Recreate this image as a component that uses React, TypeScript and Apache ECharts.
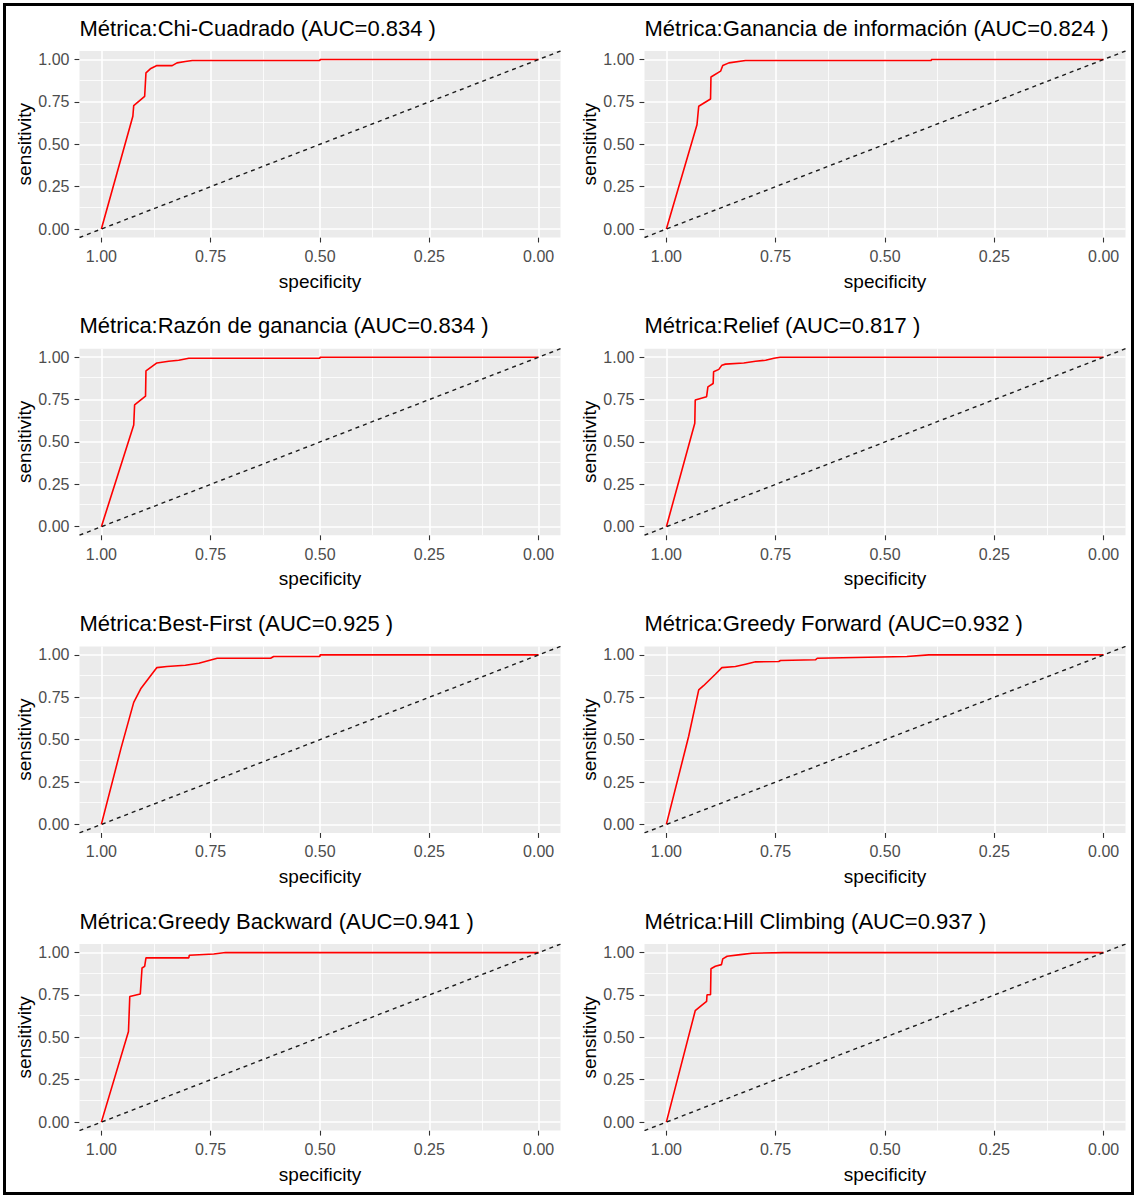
import React, { useEffect, useRef } from "react";
import * as echarts from "echarts";

// ---------- data ----------
const metricNames = [
  "Chi-Cuadrado",
  "Ganancia de información",
  "Razón de ganancia",
  "Relief",
  "Best-First",
  "Greedy Forward",
  "Greedy Backward",
  "Hill Climbing",
];
const aucValues = ["0.834", "0.824", "0.834", "0.817", "0.925", "0.932", "0.941", "0.937"];

// [specificity, sensitivity]
const chiCuadrado = [[1, 0], [0.928, 0.665], [0.926, 0.728], [0.901, 0.783], [0.898, 0.921], [0.888, 0.945], [0.873, 0.964], [0.838, 0.964], [0.827, 0.98], [0.808, 0.988], [0.792, 0.994], [0.5, 0.994], [0.5, 1], [0, 1]];
const gananciaInfo = [[1, 0], [0.93, 0.615], [0.926, 0.724], [0.899, 0.767], [0.898, 0.897], [0.876, 0.931], [0.871, 0.964], [0.857, 0.98], [0.819, 0.994], [0.394, 0.994], [0.394, 1], [0, 1]];
const razonGanancia = [[1, 0], [0.926, 0.6], [0.924, 0.718], [0.899, 0.77], [0.898, 0.919], [0.873, 0.966], [0.846, 0.976], [0.823, 0.982], [0.8, 0.994], [0.5, 0.994], [0.5, 1], [0, 1]];
const relief = [[1, 0], [0.935, 0.61], [0.934, 0.747], [0.908, 0.767], [0.905, 0.825], [0.893, 0.845], [0.892, 0.914], [0.88, 0.928], [0.873, 0.953], [0.865, 0.959], [0.823, 0.966], [0.796, 0.976], [0.773, 0.982], [0.754, 0.994], [0.74, 1], [0, 1]];
const bestFirst = [[1, 0], [0.955, 0.45], [0.926, 0.72], [0.91, 0.8], [0.873, 0.925], [0.85, 0.931], [0.808, 0.939], [0.777, 0.951], [0.754, 0.967], [0.735, 0.98], [0.613, 0.98], [0.606, 0.99], [0.5, 0.99], [0.5, 1], [0, 1]];
const greedyForward = [[1, 0], [0.949, 0.52], [0.926, 0.794], [0.915, 0.818], [0.888, 0.886], [0.873, 0.925], [0.842, 0.931], [0.819, 0.945], [0.796, 0.959], [0.743, 0.961], [0.739, 0.967], [0.659, 0.971], [0.655, 0.98], [0.45, 0.99], [0.4, 1], [0, 1]];
const greedyBackward = [[1, 0], [0.938, 0.534], [0.935, 0.741], [0.911, 0.756], [0.907, 0.909], [0.901, 0.919], [0.898, 0.969], [0.8, 0.969], [0.799, 0.984], [0.743, 0.992], [0.716, 1], [0, 1]];
const hillClimbing = [[1, 0], [0.934, 0.657], [0.918, 0.692], [0.908, 0.712], [0.907, 0.751], [0.899, 0.751], [0.898, 0.905], [0.888, 0.919], [0.874, 0.929], [0.871, 0.963], [0.861, 0.978], [0.831, 0.988], [0.804, 0.996], [0.732, 1], [0, 1]];

const curves = [chiCuadrado, gananciaInfo, razonGanancia, relief, bestFirst, greedyForward, greedyBackward, hillClimbing];

const majorTicks = [0, 0.25, 0.5, 0.75, 1];
const minorTicks = [0.125, 0.375, 0.625, 0.875];
const diagonal = [[1.05, -0.05], [-0.05, 1.05]];

// ---------- layout ----------
const W = 1136;
const H = 1197;
const colLeft = [79.5, 644.5];
const gridW = 481;
const rowTop = [51, 348.7, 646.4, 944.1];
const gridH = 186.5;
const FONT = "'Liberation Sans', Arial, sans-serif";

function buildOption() {
  const grids: any[] = [];
  const xAxes: any[] = [];
  const yAxes: any[] = [];
  const series: any[] = [];
  const titles: any[] = [];

  curves.forEach((curve, i) => {
    const col = i % 2;
    const row = Math.floor(i / 2);
    const left = colLeft[col];
    const top = rowTop[row];
    grids.push({
      left,
      top,
      width: gridW,
      height: gridH,
      show: true,
      backgroundColor: "#EBEBEB",
      borderWidth: 0,
      containLabel: false,
    });
    titles.push({
      text: `Métrica:${metricNames[i]} (AUC=${aucValues[i]} )`,
      left: left,
      top: top - 34,
      padding: 0,
      textStyle: { fontFamily: FONT, fontSize: 22, fontWeight: "normal", color: "#000" },
    });
    const axisCommon = {
      gridIndex: i,
      type: "value",
      min: -0.05,
      max: 1.05,
      axisLine: { show: false, onZero: false },
      axisTick: { show: true, length: 5, customValues: majorTicks, lineStyle: { color: "#333", width: 1.1 } },
      axisLabel: {
        customValues: majorTicks,
        formatter: (v: number) => v.toFixed(2),
        color: "#4D4D4D",
        fontSize: 16,
        fontFamily: FONT,
        margin: 10,
      },
      splitLine: { show: false },
      nameLocation: "middle",
      nameTextStyle: { fontFamily: FONT, fontSize: 19, color: "#000" },
    };
    xAxes.push({ ...axisCommon, inverse: true, name: "specificity", nameGap: 34, axisLabel: { ...axisCommon.axisLabel, margin: 11 } });
    yAxes.push({ ...axisCommon, name: "sensitivity", nameGap: 42 });

    const gridLines: any[] = [];
    minorTicks.forEach((v) => {
      gridLines.push({ xAxis: v, lineStyle: { color: "#FFFFFF", width: 0.8, type: "solid" } });
      gridLines.push({ yAxis: v, lineStyle: { color: "#FFFFFF", width: 0.8, type: "solid" } });
    });
    majorTicks.forEach((v) => {
      gridLines.push({ xAxis: v, lineStyle: { color: "#FFFFFF", width: 1.6, type: "solid" } });
      gridLines.push({ yAxis: v, lineStyle: { color: "#FFFFFF", width: 1.6, type: "solid" } });
    });

    series.push({
      type: "line",
      xAxisIndex: i,
      yAxisIndex: i,
      data: [],
      silent: true,
      z: 1,
      markLine: {
        silent: true,
        z: 1,
        symbol: ["none", "none"],
        label: { show: false },
        data: gridLines,
      },
    });
    series.push({
      type: "line",
      xAxisIndex: i,
      yAxisIndex: i,
      data: curve,
      symbol: "none",
      showSymbol: false,
      silent: true,
      z: 10,
      lineStyle: { color: "#FF0000", width: 1.6, type: "solid", opacity: 1 },
    });
    series.push({
      type: "line",
      xAxisIndex: i,
      yAxisIndex: i,
      data: diagonal,
      symbol: "none",
      showSymbol: false,
      silent: true,
      z: 11,
      lineStyle: { color: "#1A1A1A", width: 1.4, type: [4, 4] },
    });
  });

  return {
    animation: false,
    backgroundColor: "#FFFFFF",
    textStyle: { fontFamily: FONT },
    title: titles,
    grid: grids,
    xAxis: xAxes,
    yAxis: yAxes,
    series,
    graphic: [
      {
        type: "rect",
        shape: { x: 4.5, y: 4.5, width: W - 8, height: H - 8 },
        style: { fill: "none", stroke: "#000", lineWidth: 3 },
        silent: true,
        z: 100,
      },
    ],
  };
}

export default function App() {
  const ref = useRef<HTMLDivElement>(null);
  useEffect(() => {
    document.body.style.margin = "0";
    if (!ref.current) return;
    const chart = echarts.init(ref.current, undefined, { renderer: "svg", width: W, height: H });
    chart.setOption(buildOption() as any);
    return () => chart.dispose();
  }, []);
  return <div ref={ref} style={{ width: W, height: H }} />;
}
